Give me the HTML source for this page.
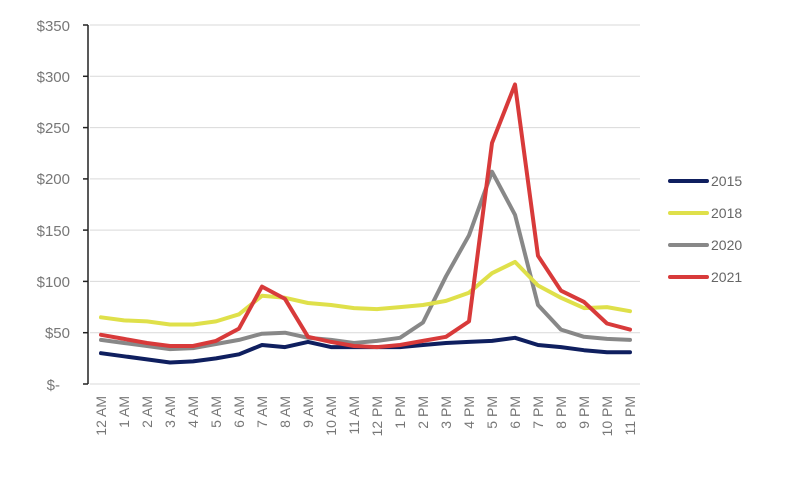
<!DOCTYPE html>
<html><head><meta charset="utf-8"><style>
html,body{margin:0;padding:0;background:#fff;}
svg{display:block;font-family:"Liberation Sans",sans-serif;}
</style></head><body>
<svg width="800" height="484" viewBox="0 0 800 484" xmlns="http://www.w3.org/2000/svg">
<g stroke="#d9d9d9" stroke-width="1">
<line x1="90" x2="640" y1="25" y2="25"/><line x1="90" x2="640" y1="76.3" y2="76.3"/>
<line x1="90" x2="640" y1="127.6" y2="127.6"/><line x1="90" x2="640" y1="178.9" y2="178.9"/>
<line x1="90" x2="640" y1="230.1" y2="230.1"/><line x1="90" x2="640" y1="281.4" y2="281.4"/>
<line x1="90" x2="640" y1="332.7" y2="332.7"/><line x1="90" x2="640" y1="384" y2="384"/>
</g>
<g stroke="#222" stroke-width="1.5">
<line x1="88" x2="88" y1="25" y2="384"/>
<line x1="83" x2="88" y1="25" y2="25"/><line x1="83" x2="88" y1="76.3" y2="76.3"/>
<line x1="83" x2="88" y1="127.6" y2="127.6"/><line x1="83" x2="88" y1="178.9" y2="178.9"/>
<line x1="83" x2="88" y1="230.1" y2="230.1"/><line x1="83" x2="88" y1="281.4" y2="281.4"/>
<line x1="83" x2="88" y1="332.7" y2="332.7"/><line x1="83" x2="88" y1="384" y2="384"/>
</g>
<g fill="#777" font-size="15" text-anchor="end">
<text x="70" y="31">$350</text><text x="70" y="82">$300</text><text x="70" y="133">$250</text>
<text x="70" y="184">$200</text><text x="70" y="236">$150</text><text x="70" y="287">$100</text>
<text x="70" y="338">$50</text><text x="60" y="390">$-</text>
</g>
<g id="xl" fill="#777" font-size="14" text-anchor="end"></g>
<g id="lines" fill="none" stroke-width="4" stroke-linejoin="round" stroke-linecap="round"></g>
<g stroke-width="4" stroke-linecap="round">
<line x1="670" x2="707" y1="181" y2="181" stroke="#0f1f5f"/>
<line x1="670" x2="707" y1="213" y2="213" stroke="#dfe04a"/>
<line x1="670" x2="707" y1="245" y2="245" stroke="#888"/>
<line x1="670" x2="707" y1="277" y2="277" stroke="#d83a3a"/>
</g>
<g fill="#666" font-size="14">
<text x="711" y="186">2015</text><text x="711" y="218">2018</text>
<text x="711" y="250">2020</text><text x="711" y="282">2021</text>
</g>
</svg>
<script>
var labels=["12 AM","1 AM","2 AM","3 AM","4 AM","5 AM","6 AM","7 AM","8 AM","9 AM","10 AM","11 AM","12 PM","1 PM","2 PM","3 PM","4 PM","5 PM","6 PM","7 PM","8 PM","9 PM","10 PM","11 PM"];
var X=function(i){return 101+i*23;},Y=function(v){return 384-v*1.0257;};
var ns="http://www.w3.org/2000/svg",xl=document.getElementById("xl");
labels.forEach(function(l,i){var t=document.createElementNS(ns,"text");t.setAttribute("transform","translate("+(X(i)+5)+",396) rotate(-90)");t.textContent=l;xl.appendChild(t);});
var d=[["#888",[43,40,37,34,35,39,43,49,50,45,43,40,42,45,60,105,145,207,165,77,53,46,44,43]],
["#dfe04a",[65,62,61,58,58,61,68,86,84,79,77,74,73,75,77,81,89,108,119,96,84,74,75,71]],
["#0f1f5f",[30,27,24,21,22,25,29,38,36,41,36,36,36,36,38,40,41,42,45,38,36,33,31,31]],
["#d83a3a",[48,44,40,37,37,42,54,95,83,46,41,37,36,38,42,46,61,235,292,125,91,80,59,53]]];
var g=document.getElementById("lines");
d.forEach(function(s){var p=document.createElementNS(ns,"polyline");p.setAttribute("stroke",s[0]);p.setAttribute("points",s[1].map(function(v,i){return X(i)+","+Y(v).toFixed(1);}).join(" "));g.appendChild(p);});
</script>
</body></html>
